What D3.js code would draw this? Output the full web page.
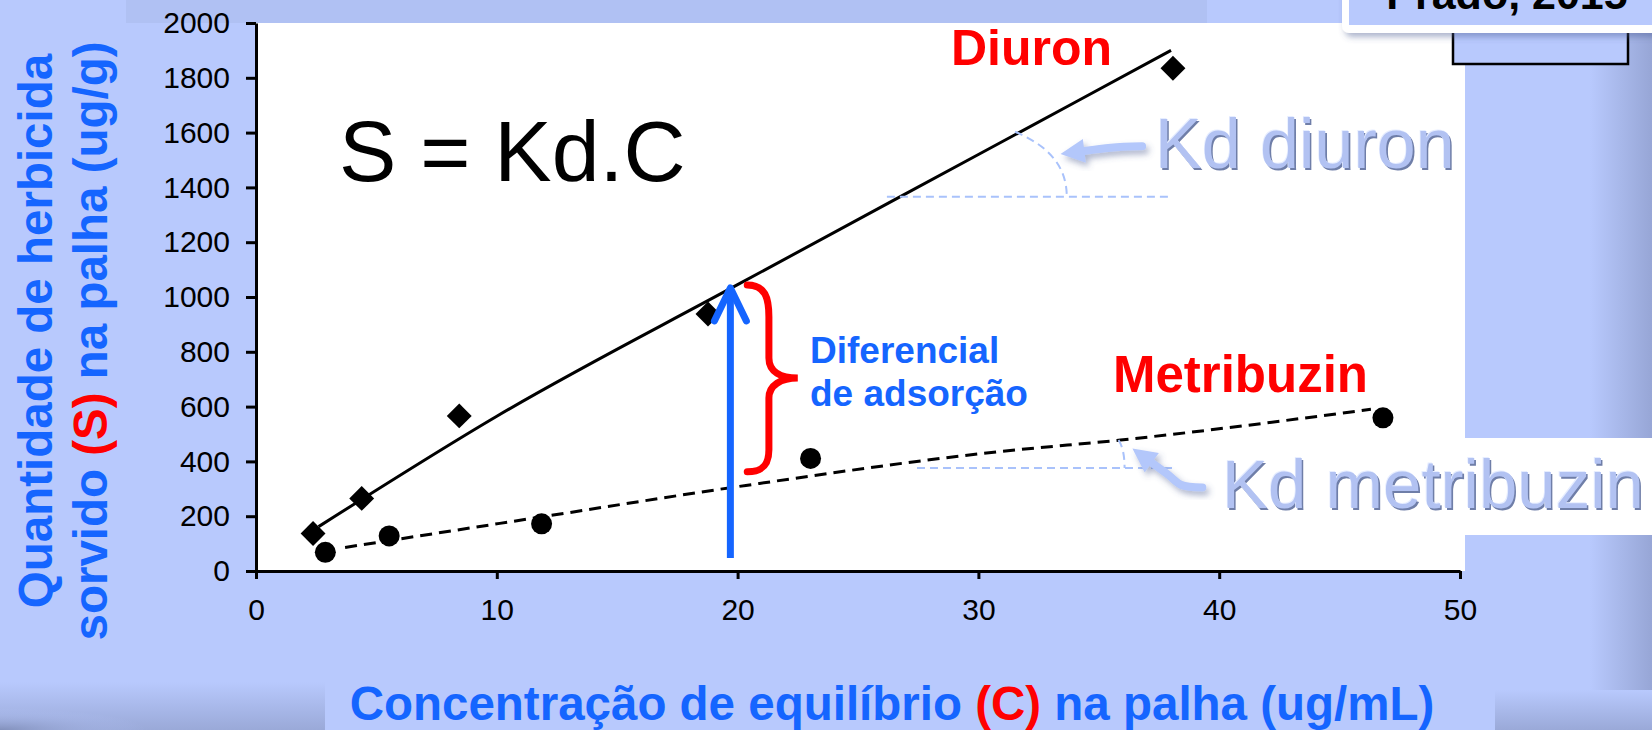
<!DOCTYPE html>
<html>
<head>
<meta charset="utf-8">
<script src="https://cdn.jsdelivr.net/npm/d3@7"></script>
<style>
body{margin:0;background:#b8c9fd;overflow:hidden}
text{font-family:"Liberation Sans",Arial,sans-serif}
</style>
</head>
<body>
<div id="chart"></div>
<script>
var width = 1652, height = 730;

// diuron (diamonds) and metribuzin (circles), C in ug/mL, S in ug/g
var diuronC = [2.37, 4.39, 8.44, 18.77, 38.08];
var diuronS = [137, 265, 566, 938, 1835];
var metribuzinC = [2.88, 5.53, 11.86, 23.03, 46.8];
var metribuzinS = [68, 128, 172, 411, 559];

// trend lines
var diuronFitC = [2.6, 10, 20, 30, 38];
var diuronFitS = [162, 565, 1045, 1520, 1900];
var metribuzinFitC = [3.7, 11.9, 19.7, 30.9, 35.9, 46.3];
var metribuzinFitS = [86, 198, 304, 436, 478, 590];

var xTicks = [0, 10, 20, 30, 40, 50];
var yTicks = [0, 200, 400, 600, 800, 1000, 1200, 1400, 1600, 1800, 2000];

var svg = d3.select('#chart').append('svg')
	.attr("width", width)
	.attr("height", height);

//scalers
var x = d3.scaleLinear().domain([0, 50]).range([256, 1460]);
var y = d3.scaleLinear().domain([0, 2000]).range([571, 23]);

var defs = svg.append('defs');
var gr = defs.append('linearGradient').attr('id', 'edgeR').attr('x1', 0).attr('x2', 1);
gr.append('stop').attr('offset', '0%').attr('stop-color', '#b8c9fd');
gr.append('stop').attr('offset', '100%').attr('stop-color', '#97a6d6');
var gb = defs.append('linearGradient').attr('id', 'edgeB').attr('x1', 0).attr('x2', 0).attr('y1', 0).attr('y2', 1);
gb.append('stop').attr('offset', '0%').attr('stop-color', '#b8c9fd');
gb.append('stop').attr('offset', '100%').attr('stop-color', '#9aa9d8');
var gl = defs.append('radialGradient').attr('id', 'cornerBL').attr('cx', 0).attr('cy', 1).attr('r', 1);
gl.append('stop').attr('offset', '0%').attr('stop-color', '#7f8db8').attr('stop-opacity', 0.9);
gl.append('stop').attr('offset', '45%').attr('stop-color', '#b8c9fd').attr('stop-opacity', 0);
var sh = defs.append('filter').attr('id', 'shadow').attr('x', '-30%').attr('y', '-30%').attr('width', '160%').attr('height', '160%');
sh.append('feDropShadow').attr('dx', 3).attr('dy', 4).attr('stdDeviation', 3)
	.attr('flood-color', '#4a5a90').attr('flood-opacity', 0.45);

// background blocks
svg.append('rect').attr('width', width).attr('height', height).attr('fill', '#b8c9fd');
svg.append('rect').attr('x', 126).attr('y', 0).attr('width', 1081).attr('height', 23).attr('fill', '#b0c1f3');
svg.append('rect').attr('x', 1590).attr('y', 0).attr('width', 62).attr('height', height).attr('fill', 'url(#edgeR)');
svg.append('rect').attr('x', 0).attr('y', 682).attr('width', 325).attr('height', 48).attr('fill', 'url(#edgeB)');
svg.append('rect').attr('x', 0).attr('y', 682).attr('width', 325).attr('height', 48).attr('fill', 'url(#cornerBL)');
svg.append('rect').attr('x', 1495).attr('y', 690).attr('width', 157).attr('height', 40).attr('fill', 'url(#edgeB)');

// white plot area and white band for the metribuzin label
svg.append('rect').attr('x', x(0)).attr('y', y(2000)).attr('width', 1465 - x(0)).attr('height', y(0) - y(2000)).attr('fill', '#fff');
svg.append('rect').attr('x', 1465).attr('y', 438).attr('width', width - 1465).attr('height', 97).attr('fill', '#fff');

// boxed reference, top right
svg.append('rect').attr('x', 1453).attr('y', -5).attr('width', 175).attr('height', 69)
	.attr('fill', '#b8c9fd').attr('stroke', '#000').attr('stroke-width', 2.5);
svg.append('rect').attr('x', 1342).attr('y', -20).attr('width', 330).attr('height', 53).attr('rx', 7)
	.attr('fill', '#fff').attr('filter', 'url(#shadow)');
svg.append('rect').attr('x', 1349).attr('y', -20).attr('width', 320).attr('height', 45).attr('fill', '#b8c9fd');
svg.append('text').attr('x', 1507).attr('y', 9).attr('text-anchor', 'middle')
	.attr('font-size', 43).attr('font-weight', 'bold').attr('fill', '#000').text('Prado, 2015');

// fit lines
var line = d3.line().x(function(d){return x(d[0]);}).y(function(d){return y(d[1]);}).curve(d3.curveMonotoneX);
svg.append('path').datum(d3.zip(diuronFitC, diuronFitS)).attr('d', line)
	.attr('fill', 'none').attr('stroke', '#000').attr('stroke-width', 3);
svg.append('path').datum(d3.zip(metribuzinFitC, metribuzinFitS)).attr('d', line)
	.attr('fill', 'none').attr('stroke', '#000').attr('stroke-width', 3).attr('stroke-dasharray', '12,7');

// light blue angle guides (Kd)
function guide(vx, vy, hx2, arcStart, arcEnd) {
	svg.append('line').attr('x1', x(vx)).attr('x2', x(hx2)).attr('y1', y(vy)).attr('y2', y(vy))
		.attr('stroke', '#a9c2fb').attr('stroke-width', 2).attr('stroke-dasharray', '8,5');
	var sx = x(arcStart[0]), sy = y(arcStart[1]), ex = x(arcEnd[0]), ey = y(arcEnd[1]);
	svg.append('path')
		.attr('d', 'M' + sx + ',' + sy + ' C' + (sx + (ex - sx) * 0.6) + ',' + (sy + (ey - sy) * 0.2) + ' ' + ex + ',' + (sy + (ey - sy) * 0.5) + ' ' + ex + ',' + ey)
		.attr('fill', 'none').attr('stroke', '#a9c2fb').attr('stroke-width', 2).attr('stroke-dasharray', '8,5');
}
guide(26.2, 1366, 38.04, [31.52, 1603], [33.67, 1366]);
guide(27.45, 376, 38.16, [35.82, 478], [36.07, 376]);

// markers
var diamond = d3.symbol().type(d3.symbolSquare).size(310);
svg.selectAll('.diuron').data(d3.zip(diuronC, diuronS)).enter().append('path')
	.attr('class', 'diuron').attr('d', diamond)
	.attr('transform', function(d){return 'translate(' + x(d[0]) + ',' + y(d[1]) + ') rotate(45)';})
	.attr('fill', '#000');
svg.selectAll('.metribuzin').data(d3.zip(metribuzinC, metribuzinS)).enter().append('circle')
	.attr('class', 'metribuzin').attr('cx', function(d){return x(d[0]);}).attr('cy', function(d){return y(d[1]);})
	.attr('r', 10.5).attr('fill', '#000');

// axes
var yAxis = d3.axisLeft(y).tickValues(yTicks).tickFormat(d3.format('d')).tickSize(10).tickSizeOuter(0).tickPadding(16);
var xAxis = d3.axisBottom(x).tickValues(xTicks).tickFormat(d3.format('d')).tickSize(8).tickSizeOuter(0).tickPadding(20);
var gy = svg.append('g').attr('transform', 'translate(' + x(0) + ',0)').call(yAxis);
var gx = svg.append('g').attr('transform', 'translate(0,' + y(0) + ')').call(xAxis);
[gx, gy].forEach(function(g){
	g.selectAll('path,line').attr('stroke', '#000').attr('stroke-width', 3);
	g.selectAll('text').attr('font-size', 30).attr('fill', '#000')
		.attr('font-family', '"Liberation Sans",Arial,sans-serif');
});

// blue arrow (difference between the two lines)
var ax = x(19.7), aBot = y(47), aTop = y(1033);
svg.append('line').attr('x1', ax).attr('x2', ax).attr('y1', aBot).attr('y2', aTop + 3)
	.attr('stroke', '#1565ff').attr('stroke-width', 7);
svg.append('path').attr('d', 'M' + (ax - 16) + ',' + (aTop + 33) + ' L' + ax + ',' + aTop + ' L' + (ax + 16) + ',' + (aTop + 33))
	.attr('fill', 'none').attr('stroke', '#1565ff').attr('stroke-width', 7)
	.attr('stroke-linecap', 'round').attr('stroke-linejoin', 'round');

// red brace
var bx0 = x(20.4), bx1 = x(21.3), bx2 = x(22.5);
var bTop = y(1044), bMid = y(704), bBot = y(362);
svg.append('path')
	.attr('d', 'M' + bx0 + ',' + bTop +
		' C' + (bx0 + 18) + ',' + bTop + ' ' + bx1 + ',' + (bTop + 13) + ' ' + bx1 + ',' + (bTop + 32) +
		' L' + bx1 + ',' + (bMid - 20) +
		' C' + bx1 + ',' + (bMid - 6) + ' ' + (bx1 + 12) + ',' + bMid + ' ' + bx2 + ',' + bMid +
		' C' + (bx1 + 12) + ',' + bMid + ' ' + bx1 + ',' + (bMid + 7) + ' ' + bx1 + ',' + (bMid + 20) +
		' L' + bx1 + ',' + (bBot - 22) +
		' C' + bx1 + ',' + (bBot - 10) + ' ' + (bx0 + 18) + ',' + bBot + ' ' + bx0 + ',' + bBot)
	.attr('fill', 'none').attr('stroke', '#ff0000').attr('stroke-width', 7).attr('stroke-linecap', 'round');

// light blue Kd arrows
function kdArrow(pts, head) {
	var p = pts.map(function(d){return [x(d[0]), y(d[1])];});
	var g = svg.append('g').attr('filter', 'url(#shadow)');
	g.append('path').attr('d', d3.line().curve(d3.curveCatmullRom)(p))
		.attr('fill', 'none').attr('stroke', '#b3c7fb').attr('stroke-width', 8).attr('stroke-linecap', 'round');
	var t = p[p.length - 1], a = Math.atan2(t[1] - head[1], t[0] - head[0]);
	var L = 24, W = 12;
	var tip = [t[0] + Math.cos(a) * L, t[1] + Math.sin(a) * L];
	var b1 = [t[0] - Math.sin(a) * W, t[1] + Math.cos(a) * W];
	var b2 = [t[0] + Math.sin(a) * W, t[1] - Math.cos(a) * W];
	g.append('path').attr('d', 'M' + tip + 'L' + b1 + 'L' + b2 + 'Z').attr('fill', '#b3c7fb');
}
kdArrow([[36.8, 1550], [35.5, 1545], [34.4, 1533]], [x(35.5), y(1545)]);
kdArrow([[39.3, 305], [38.4, 315], [37.9, 350], [37.2, 395]], [x(37.9), y(350)]);

// embossed labels
function emboss(txt, px, py, size) {
	var g = svg.append('g').attr('font-size', size);
	g.append('text').attr('x', px + 1.6).attr('y', py + 1.6).attr('fill', '#6f7ea8').text(txt);
	g.append('text').attr('x', px - 0.8).attr('y', py - 0.8).attr('fill', '#e6edff').text(txt);
	g.append('text').attr('x', px).attr('y', py).attr('fill', '#b2c2f2').text(txt);
}
emboss('Kd diuron', 1155, 168, 70);
emboss('Kd metribuzin', 1222, 508, 69);

// text labels
svg.append('text').attr('x', 339).attr('y', 181).attr('font-size', 86).attr('fill', '#000').text('S = Kd.C');
svg.append('text').attr('x', 951).attr('y', 65).attr('font-size', 50).attr('font-weight', 'bold').attr('fill', '#ff0000').text('Diuron');
svg.append('text').attr('x', 1113).attr('y', 392).attr('font-size', 51).attr('font-weight', 'bold').attr('fill', '#ff0000').text('Metribuzin');
svg.append('text').attr('x', 810).attr('y', 363).attr('font-size', 37).attr('font-weight', 'bold').attr('fill', '#1565ff').text('Diferencial');
svg.append('text').attr('x', 810).attr('y', 406).attr('font-size', 37).attr('font-weight', 'bold').attr('fill', '#1565ff').text('de adsorção');

// axis titles
var blue = '#1565ff', red = '#ff0000';
var xt = svg.append('text').attr('x', 892).attr('y', 720).attr('text-anchor', 'middle')
	.attr('font-size', 47.5).attr('font-weight', 'bold').attr('fill', blue);
xt.append('tspan').text('Concentração de equilíbrio ');
xt.append('tspan').attr('fill', red).text('(C)');
xt.append('tspan').text(' na palha (ug/mL)');

svg.append('text').attr('transform', 'translate(52,331) rotate(-90)').attr('text-anchor', 'middle')
	.attr('font-size', 47.5).attr('font-weight', 'bold').attr('fill', blue).text('Quantidade de herbicida');
var yt = svg.append('text').attr('transform', 'translate(107,341) rotate(-90)').attr('text-anchor', 'middle')
	.attr('font-size', 47.5).attr('font-weight', 'bold').attr('fill', blue);
yt.append('tspan').text('sorvido ');
yt.append('tspan').attr('fill', red).text('(S)');
yt.append('tspan').text(' na palha (ug/g)');
</script>
</body>
</html>
